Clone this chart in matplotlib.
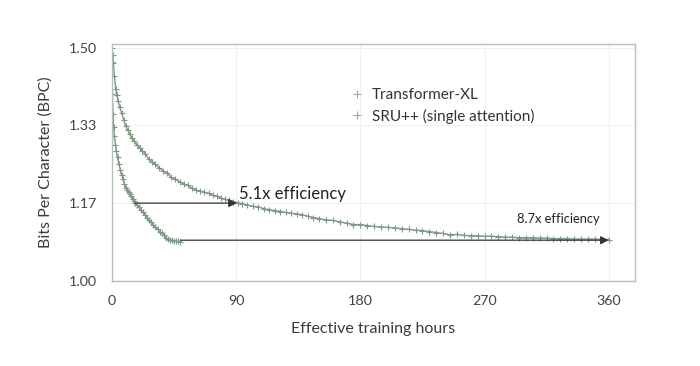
import matplotlib.pyplot as plt
from matplotlib.lines import Line2D

# Transformer-XL curve (hours, BPC)
txl_hours = [0, 0.5, 1.0, 1.7, 2.7, 3.5, 4.5, 5.5, 7, 8.5, 10, 11.5, 13, 14.5, 16, 18, 20, 22, 24,
             26.5, 29, 31.5, 34, 37, 40, 43, 46, 49, 52, 55, 58, 61, 64, 67, 70, 73, 76, 79, 82,
             85, 88, 91, 94, 98, 102, 106, 110, 114, 118, 122, 126, 130, 134, 138, 142, 146, 150,
             155, 160, 165, 170, 175, 180, 185, 190, 195, 200, 205, 210, 215, 220, 225, 230, 235,
             240, 245, 250, 255, 260, 265, 270, 275, 280, 285, 290, 295, 300, 305, 310, 315, 320,
             325, 330, 335, 340, 345, 350, 355, 360]
txl_bpc = [1.500, 1.485, 1.468, 1.440, 1.412, 1.398, 1.385, 1.373, 1.360, 1.345, 1.332, 1.323,
           1.314, 1.306, 1.300, 1.292, 1.285, 1.279, 1.273, 1.262, 1.256, 1.250, 1.243, 1.236,
           1.231, 1.222, 1.218, 1.213, 1.208, 1.205, 1.199, 1.195, 1.193, 1.190, 1.188, 1.184,
           1.182, 1.178, 1.175, 1.174, 1.170, 1.168, 1.166, 1.163, 1.160, 1.159, 1.155, 1.153,
           1.151, 1.149, 1.147, 1.145, 1.144, 1.142, 1.139, 1.136, 1.134, 1.131, 1.130, 1.127,
           1.124, 1.121, 1.121, 1.119, 1.117, 1.116, 1.115, 1.114, 1.112, 1.111, 1.109, 1.108,
           1.106, 1.104, 1.102, 1.099, 1.100, 1.098, 1.097, 1.097, 1.096, 1.096, 1.095, 1.094,
           1.094, 1.093, 1.093, 1.093, 1.092, 1.092, 1.091, 1.091, 1.091, 1.090, 1.090, 1.090,
           1.090, 1.089, 1.089]

# SRU++ (single attention) curve
sru_hours = [0, 0.3, 0.7, 1.2, 1.8, 2.5, 3.2, 4, 5, 6, 7, 8, 9, 10, 11, 12, 13, 14, 15, 16, 17,
             18, 19.5, 21, 22.5, 24, 25.5, 27, 28.5, 30, 31.5, 33, 34.5, 36, 37.5, 39, 40.5, 42,
             43.5, 45, 46.5, 48, 49.5]
sru_bpc = [1.470, 1.400, 1.358, 1.330, 1.310, 1.292, 1.278, 1.265, 1.251, 1.238, 1.228, 1.218,
           1.208, 1.200, 1.195, 1.190, 1.186, 1.182, 1.176, 1.171, 1.167, 1.163, 1.158, 1.153,
           1.148, 1.142, 1.136, 1.131, 1.126, 1.120, 1.115, 1.111, 1.106, 1.102, 1.098, 1.093,
           1.090, 1.088, 1.087, 1.086, 1.085, 1.085, 1.084]

series_labels = ["Transformer-XL", "SRU++ (single attention)"]
x_ticks = [0, 90, 180, 270, 360]
y_ticks = [1.0, 1.0 + 1 / 6, 1.0 + 2 / 6, 1.5]
y_tick_labels = ["1.00", "1.17", "1.33", "1.50"]

# efficiency arrows: (start hours, end hours, bpc, text)
arrow_a = (16.6, 90.5, 1.167, "5.1x efficiency")
arrow_b = (49.5, 360.0, 1.0876, "8.7x efficiency")

plt.rcParams['font.family'] = ['Lato', 'DejaVu Sans']
line_col = '#7f9884'
text_col = '#3a3a3a'

fig = plt.figure(figsize=(7, 3.66), dpi=100)
ax = fig.add_axes([0.16, 0.232, 0.747, 0.648])

for sx in ax.spines.values():
    sx.set_color('#b3c2b6')
    sx.set_linewidth(1.0)

ax.grid(True, color='#eef1ee', linewidth=0.8)
ax.set_axisbelow(True)

for x0, x1, yv, _ in [arrow_a, arrow_b]:
    ax.annotate("", xy=(x1, yv), xytext=(x0, yv),
                arrowprops=dict(arrowstyle='-|>', color='#333333', lw=0.9,
                                mutation_scale=12, shrinkA=0, shrinkB=0))

ax.plot(txl_hours, txl_bpc, color=line_col, lw=1.0, marker='+', ms=5, mew=0.8)
ax.plot(sru_hours, sru_bpc, color=line_col, lw=1.0, marker='+', ms=5, mew=0.8)

ax.text(92, 1.187, arrow_a[3], fontsize=12, color='#222222', va='center', ha='left')
ax.text(293.5, 1.133, arrow_b[3], fontsize=9.3, color='#222222', va='center', ha='left')

ax.set_xlim(0, 379)
ax.set_ylim(1.0, 1.508)
ax.set_xticks(x_ticks)
ax.set_yticks(y_ticks)
ax.set_yticklabels(y_tick_labels)
ax.tick_params(length=0, labelsize=10.3, labelcolor='#444444')
ax.tick_params(axis='y', pad=11)
ax.tick_params(axis='x', pad=10)

ax.set_xlabel("Effective training hours", fontsize=11.5, color=text_col, labelpad=11)
ax.set_ylabel("Bits Per Character (BPC)", fontsize=11.5, color=text_col, labelpad=11)

handles = [Line2D([], [], ls='none', marker='+', ms=6, mew=0.8, color='#98ad9c') for _ in series_labels]
ax.legend(handles, series_labels, loc='upper left', bbox_to_anchor=(0.427, 0.872),
          frameon=False, fontsize=11, handletextpad=0.5, labelspacing=0.42,
          handlelength=1.0, labelcolor='#333333')

fig.savefig("out.png", dpi=100)
